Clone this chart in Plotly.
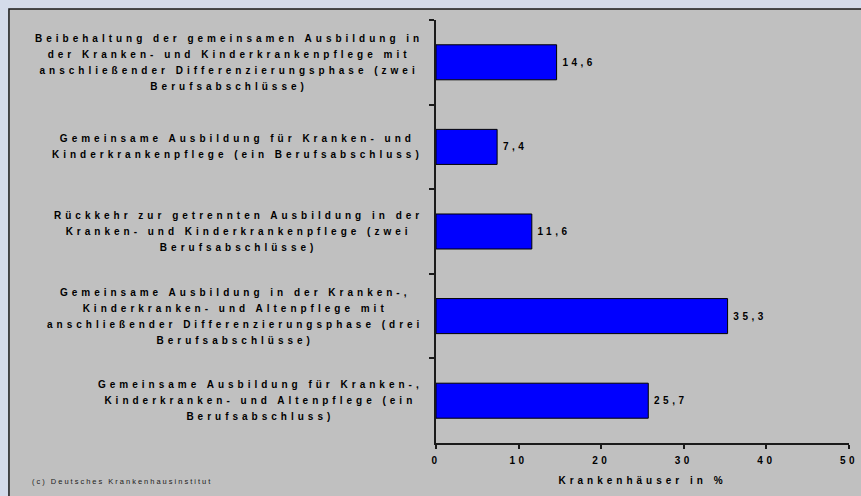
import plotly.graph_objects as go

# Kategorien (von oben nach unten) und Werte in %
categories = [
    "Beibehaltung der gemeinsamen Ausbildung in<br>der Kranken- und Kinderkrankenpflege mit<br>anschließender Differenzierungsphase (zwei<br>Berufsabschlüsse)",
    "Gemeinsame Ausbildung für Kranken- und<br>Kinderkrankenpflege (ein Berufsabschluss)",
    "Rückkehr zur getrennten Ausbildung in der<br>Kranken- und Kinderkrankenpflege (zwei<br>Berufsabschlüsse)",
    "Gemeinsame Ausbildung in der Kranken-,<br>Kinderkranken- und Altenpflege mit<br>anschließender Differenzierungsphase (drei<br>Berufsabschlüsse)",
    "Gemeinsame Ausbildung für Kranken-,<br>Kinderkranken- und Altenpflege (ein<br>Berufsabschluss)",
]
values = [14.6, 7.4, 11.6, 35.3, 25.7]
x_ticks = [0, 10, 20, 30, 40, 50]
x_title = "Krankenhäuser in %"
source_note = "(c) Deutsches Krankenhausinstitut"

FONT = "Arial, Liberation Sans, sans-serif"


def spaced(txt, ls, size=None):
    # letter-spacing per line, plotly keeps the style on the tspan
    st = "letter-spacing:%spx" % ls
    if size:
        st += ";font-size:%spx" % size
    return "<br>".join("<span style='%s'>%s</span>" % (st, line) for line in txt.split("<br>"))


fig = go.Figure()
fig.add_trace(go.Bar(
    x=values, y=categories, orientation="h",
    marker=dict(color="#0000FF", line=dict(color="#000000", width=1)),
    texttemplate="\u00a0<span style='letter-spacing:3.5px'>%{x:.1f}</span>",
    textposition="outside", cliponaxis=False,
    textfont=dict(family=FONT, size=10, color="#000000", weight="bold"),
    hoverinfo="skip",
))

# Beschriftungen links, zentriert ausgerichtet
for cat in categories:
    fig.add_annotation(
        x=-0.026, xref="paper", xanchor="right",
        y=cat, yref="y", yanchor="middle",
        text=spaced(cat, 4, 10), align="center", showarrow=False,
        font=dict(family=FONT, size=12.3, color="#000000", weight="bold"),
    )

fig.add_annotation(
    x=-0.983, xref="paper", xanchor="left",
    y=-0.092, yref="paper", yanchor="middle",
    text=spaced(source_note, 2), showarrow=False,
    font=dict(family=FONT, size=7.5, color="#222222"),
)

# grauer Kasten hinter dem Diagramm
fig.add_shape(
    type="rect", xref="paper", yref="paper",
    x0=-1.034, x1=1.1, y0=-0.2, y1=1.026,
    fillcolor="#C0C0C0", line=dict(color="#1a1a1a", width=1.5), layer="below",
)

fig.update_layout(
    width=861, height=496,
    margin=dict(l=436, r=12, t=20, b=53),
    paper_bgcolor="#d4dbea", plot_bgcolor="#C0C0C0",
    bargap=0.586, showlegend=False,
    separators=",.",
    font=dict(family=FONT, size=10, color="#000000"),
)
fig.update_xaxes(
    range=[0, 50], tickvals=x_ticks,
    ticktext=[spaced(str(t), 3.5) for t in x_ticks],
    tickfont=dict(family=FONT, size=10, color="#000000", weight="bold"),
    ticks="outside", ticklen=4, tickwidth=1.5, tickcolor="#1a1a1a",
    ticklabelstandoff=3, automargin=False,
    showline=True, linecolor="#1a1a1a", linewidth=1.5,
    showgrid=False, zeroline=False,
    title=dict(text=spaced(x_title, 4), standoff=12,
               font=dict(family=FONT, size=10, color="#000000", weight="bold")),
)
fig.update_yaxes(
    categoryorder="array", categoryarray=categories, autorange="reversed",
    showticklabels=False, tickson="boundaries", automargin=False,
    ticks="outside", ticklen=5, tickwidth=1.5, tickcolor="#1a1a1a",
    showline=True, linecolor="#1a1a1a", linewidth=1.5,
    showgrid=False, zeroline=False,
)

# Seitenrand weg, damit das Bild genau ins Fenster passt
fig.write_html("out.html", config={"displayModeBar": False},
               post_script="document.body.style.margin='0';document.body.style.overflow='hidden';")
